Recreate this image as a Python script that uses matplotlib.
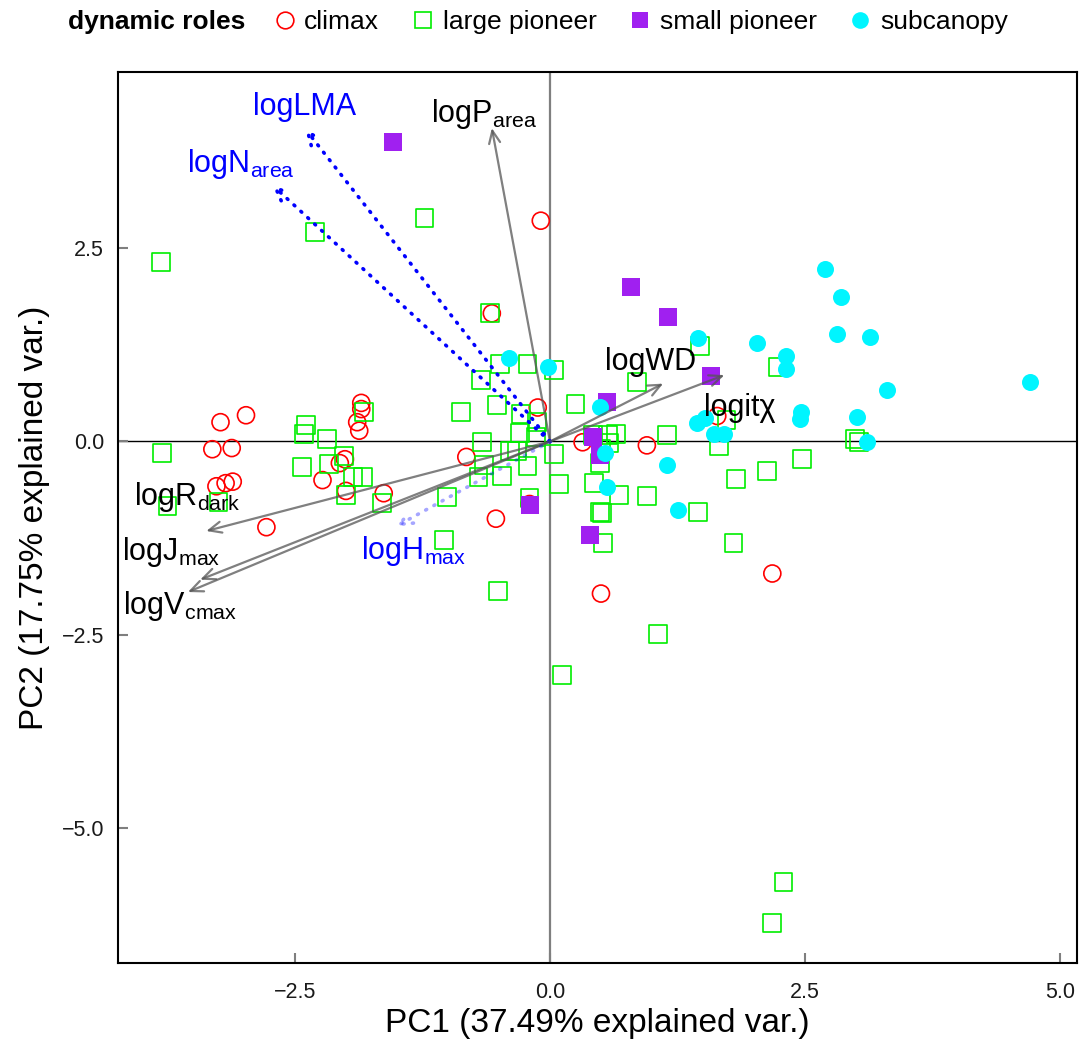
import matplotlib
matplotlib.use("Agg")
import matplotlib.pyplot as plt
from matplotlib.lines import Line2D
import numpy as np

plt.rcParams['font.family'] = ['Liberation Sans', 'DejaVu Sans']
plt.rcParams['mathtext.default'] = 'regular'

## Data (PC1, PC2 scores)
climax = [(-3.23, 0.25), (-2.98, 0.34), (-3.31, -0.10), (-3.12, -0.085), (-3.27, -0.58),
          (-3.18, -0.54), (-3.11, -0.52), (-2.78, -1.11), (-1.85, 0.50), (-1.85, 0.42),
          (-1.89, 0.25), (-1.87, 0.14), (-2.01, -0.23), (-2.06, -0.28), (-2.23, -0.50),
          (-2.00, -0.64), (-1.63, -0.67), (-0.57, 1.66), (-0.09, 2.86), (-0.12, 0.44),
          (0.32, -0.01), (0.95, -0.05), (-0.82, -0.20), (-0.20, -0.81), (-0.53, -1.00),
          (0.50, -1.97), (1.64, 0.33), (2.18, -1.71)]

large_pioneer = [(-3.81, 2.32), (-2.30, 2.71), (-1.23, 2.90), (-0.59, 1.66), (-0.49, 1.00),
                 (-0.22, 1.00), (0.04, 0.93), (-0.68, 0.80), (-0.52, 0.47), (-0.87, 0.38),
                 (-0.28, 0.36), (-0.13, 0.25), (-0.29, 0.11), (-0.67, -0.01), (-0.39, -0.12),
                 (-0.32, -0.12), (-0.14, 0.06), (-0.65, -0.30), (-0.70, -0.46), (-0.47, -0.45),
                 (-0.22, -0.32), (-1.01, -0.72), (-0.20, -0.73), (0.04, -0.16), (0.09, -0.55),
                 (-1.04, -1.28), (-0.51, -1.94), (-1.82, 0.38), (-2.39, 0.21), (-2.41, 0.10),
                 (-2.19, 0.03), (-3.80, -0.15), (-2.43, -0.33), (-2.17, -0.29), (-2.02, -0.19),
                 (-1.93, -0.46), (-1.83, -0.46), (-2.00, -0.69), (-1.65, -0.80), (-3.75, -0.84),
                 (-3.25, -0.78), (0.25, 0.49), (0.85, 0.77), (0.57, 0.08), (0.65, 0.10),
                 (0.58, -0.02), (0.50, -0.10), (1.15, 0.08), (1.66, -0.06), (2.99, 0.03),
                 (3.03, -0.01), (0.49, -0.28), (2.47, -0.23), (2.13, -0.38), (1.82, -0.49),
                 (0.43, -0.54), (0.68, -0.69), (0.95, -0.71), (1.45, -0.91), (0.49, -0.91),
                 (0.51, -0.93), (0.52, -1.31), (1.80, -1.31), (1.06, -2.49), (0.12, -3.02),
                 (2.29, -5.71), (2.18, -6.24), (1.47, 1.24), (2.23, 0.96), (1.73, 0.28),
                 (0.42, 0.08)]

small_pioneer = [(-1.54, 3.88), (0.79, 2.00), (1.16, 1.61), (1.58, 0.85), (0.56, 0.51),
                 (0.42, 0.06), (0.49, -0.17), (-0.20, -0.82), (0.39, -1.21)]

subcanopy = [(2.70, 2.23), (2.85, 1.87), (2.81, 1.39), (3.14, 1.35), (2.03, 1.28),
             (1.45, 1.34), (2.31, 1.11), (2.31, 0.94), (4.71, 0.77), (3.30, 0.67),
             (2.46, 0.38), (2.45, 0.29), (3.01, 0.32), (1.44, 0.24), (1.52, 0.30),
             (1.61, 0.10), (1.71, 0.10), (3.11, -0.01), (0.49, 0.45), (-0.02, 0.97),
             (-0.40, 1.08), (0.54, -0.15), (1.15, -0.30), (0.56, -0.59), (1.26, -0.89)]

# variable loadings (arrow tips) and label positions
var_names = ['logP$_{area}$', 'logLMA', 'logN$_{area}$', 'logWD', 'logit\u03c7',
             'logR$_{dark}$', 'logJ$_{max}$', 'logV$_{cmax}$', 'logH$_{max}$']
var_x = [-0.57, -2.40, -2.72, 1.11, 1.71, -3.37, -3.43, -3.55, -1.51]
var_y = [4.06, 4.05, 3.32, 0.75, 0.86, -1.16, -1.79, -1.95, -1.10]
lab_x = [-0.65, -2.41, -3.03, 0.99, 1.86, -3.56, -3.71, -3.63, -1.34]
lab_y = [4.24, 4.33, 3.60, 1.03, 0.43, -0.72, -1.43, -2.13, -1.42]
var_kind = ['solid', 'blue', 'blue', 'solid', 'solid', 'solid', 'solid', 'solid', 'faint']

groups = ['climax', 'large pioneer', 'small pioneer', 'subcanopy']


fig = plt.figure(figsize=(10.87, 10.41), dpi=100)
ax = fig.add_axes([118/1087, 1 - 963/1041, (1077-118)/1087, (963-72)/1041])

ax.axhline(0, color='black', lw=1.0, zorder=1)
ax.axvline(0, color='#7f7f7f', lw=1.6, zorder=1)

# points
pts = np.array(climax)
ax.scatter(pts[:, 0], pts[:, 1], s=150, marker='o', facecolors='none', edgecolors='#ff0000', linewidths=1.2, zorder=2)
pts = np.array(large_pioneer)
ax.scatter(pts[:, 0], pts[:, 1], s=165, marker='s', facecolors='none', edgecolors='#00ee00', linewidths=1.2, zorder=2)
pts = np.array(small_pioneer)
ax.scatter(pts[:, 0], pts[:, 1], s=165, marker='s', color='#a020f0', linewidths=0, zorder=2)
pts = np.array(subcanopy)
ax.scatter(pts[:, 0], pts[:, 1], s=150, marker='o', color='#00f5ff', linewidths=0, zorder=2)

# loadings
for name, vx, vy, tx, ty, kind in zip(var_names, var_x, var_y, lab_x, lab_y, var_kind):
	if kind == 'solid':
		props = dict(arrowstyle='->,head_length=0.45,head_width=0.2', color='#555555', alpha=0.75,
		             lw=1.6, shrinkA=0, shrinkB=0, mutation_scale=20)
		tcol = 'black'
	else:
		alpha = 1.0 if kind == 'blue' else 0.35
		props = dict(arrowstyle='->,head_length=0.45,head_width=0.2', color='#0000ff', alpha=alpha,
		             lw=2.6, ls=(0, (0.3, 2.3)), capstyle='round', shrinkA=0, shrinkB=0,
		             mutation_scale=20)
		tcol = '#0000ff'
	ax.annotate('', xy=(vx, vy), xytext=(0, 0), arrowprops=props, zorder=3)
	ax.text(tx, ty, name, color=tcol, fontsize=22, ha='center', va='center', zorder=4)

ax.set_xlim(-4.235, 5.167)
ax.set_ylim(-6.755, 4.786)
ax.set_xticks([-2.5, 0.0, 2.5, 5.0])
ax.set_yticks([-5.0, -2.5, 0.0, 2.5])
ax.set_xticklabels(['\u22122.5', '0.0', '2.5', '5.0'])
ax.set_yticklabels(['\u22125.0', '\u22122.5', '0.0', '2.5'])
ax.tick_params(direction='in', length=7, width=1.5, color='#7f7f7f', labelsize=15.5,
               labelcolor='#1a1a1a')
ax.tick_params(axis='x', pad=14)
ax.tick_params(axis='y', pad=10)
for sp in ax.spines.values():
	sp.set_linewidth(1.5)
	sp.set_color('black')

ax.set_xlabel('PC1 (37.49% explained var.)', fontsize=24, labelpad=3)
ax.set_ylabel('PC2 (17.75% explained var.)', fontsize=24, labelpad=8)

# legend on top
fig.text(68/1087, 1 - 22/1041, 'dynamic roles', fontsize=19, weight='bold', ha='left', va='center')
handles = [
	Line2D([], [], ls='', marker='o', ms=12, mfc='none', mec='#ff0000', mew=1.2),
	Line2D([], [], ls='', marker='s', ms=12, mfc='none', mec='#00ee00', mew=1.2),
	Line2D([], [], ls='', marker='s', ms=12, mfc='#a020f0', mec='#a020f0', mew=0),
	Line2D([], [], ls='', marker='o', ms=12, mfc='#00f5ff', mec='#00f5ff', mew=0),
]
fig.legend(handles, groups, loc='center left', bbox_to_anchor=(274/1087, 1 - 22/1041), ncol=4,
           frameon=False, fontsize=19, handlelength=0.8, handletextpad=0.35, columnspacing=1.25,
           borderaxespad=0, borderpad=0)

plt.savefig('out.png', dpi=100)
